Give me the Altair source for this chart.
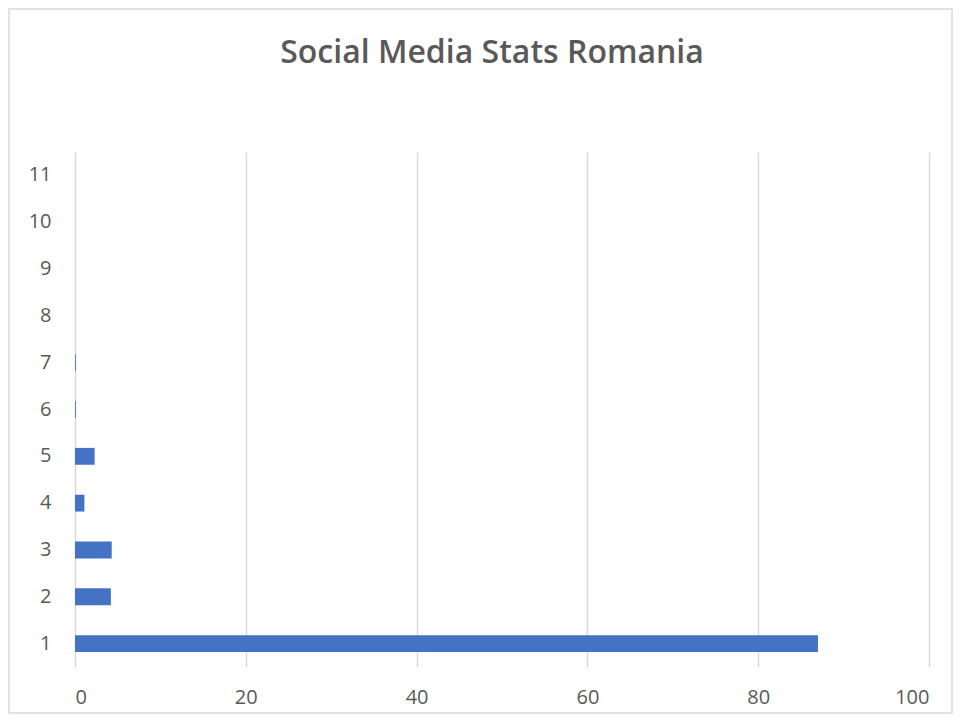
import altair as alt
import pandas as pd

categories = [1, 2, 3, 4, 5, 6, 7, 8, 9, 10, 11]
values = [87.0, 4.2, 4.3, 1.1, 2.3, 0.1, 0.1, 0, 0, 0, 0]
x_ticks = [0, 20, 40, 60, 80, 100]

df = pd.DataFrame({"cat": [str(c) for c in categories], "value": values})
order = [str(c) for c in reversed(categories)]

FONT = "Open Sans"
GREY = "#595959"

bars = alt.Chart(df).mark_bar(color="#4472C4").encode(
    x=alt.X("value:Q",
            scale=alt.Scale(domain=[0, 100], nice=False),
            axis=alt.Axis(values=x_ticks, title=None, ticks=False, domain=False,
                          grid=True, gridColor="#d9d9d9", gridWidth=1.5,
                          labelFontSize=20, labelColor=GREY, labelFont=FONT,
                          labelPadding=20)),
    y=alt.Y("cat:N", sort=order,
            scale=alt.Scale(paddingInner=0.64, paddingOuter=0.32),
            axis=alt.Axis(title=None, ticks=False, domain=False, grid=False,
                          labelFontSize=20, labelColor=GREY, labelFont=FONT,
                          labelPadding=24)),
)

border = alt.Chart(pd.DataFrame({"a": [0]})).mark_rect(
    fill=None, stroke="#d9d9d9", strokeWidth=1.5, clip=False
).encode(
    x=alt.value(-66), x2=alt.value(877), y=alt.value(-143), y2=alt.value(561)
)

chart = alt.layer(border, bars).properties(
    width=854, height=515,
    autosize=alt.AutoSizeParams(type="none"),
    padding={"left": 67, "top": 144, "right": 25, "bottom": 47},
    view=alt.ViewBackground(stroke="transparent", strokeWidth=0),
    title=alt.TitleParams("Social Media Stats Romania", fontSize=32, font=FONT,
                          fontWeight=600, color=GREY, offset=-62, dx=-10),
).configure_view(strokeWidth=0, stroke="transparent").configure(background="white")

chart.save("out.html", embed_options={"renderer": "svg", "actions": False})
